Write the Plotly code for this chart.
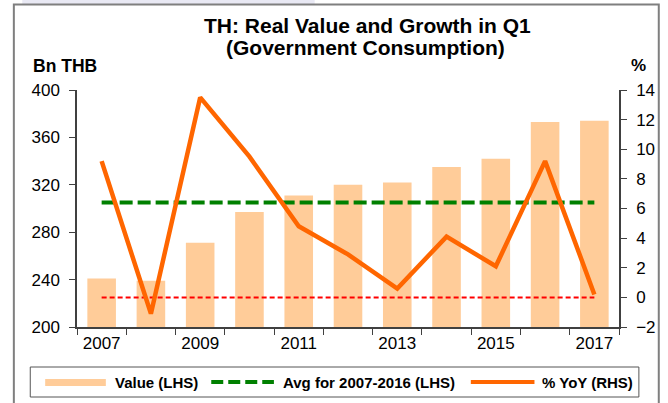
import plotly.graph_objects as go

# ---------------- data ----------------
years = [2007, 2008, 2009, 2010, 2011, 2012, 2013, 2014, 2015, 2016, 2017]
value_bn_thb = [241, 239, 271, 297, 311, 320, 322, 335, 342, 373, 374]
yoy_pct = [9.2, -1.1, 13.5, 9.5, 4.8, 2.9, 0.6, 4.1, 2.1, 9.2, 0.2]
avg_2007_2016 = 305
zero_ref = 0
x_tick_labels = ["2007", "2009", "2011", "2013", "2015", "2017"]
x_tick_years = [2007, 2009, 2011, 2013, 2015, 2017]

title_line1 = "TH: Real Value and Growth in Q1"
title_line2 = "(Government Consumption)"
legend_names = ["Value (LHS)", "Avg for 2007-2016 (LHS)", "% YoY (RHS)"]

# ---------------- layout geometry (pixels) ----------------
W, H = 668, 403
L, R, T, B = 77, 46, 90, 76
PW, PH = W - L - R, H - T - B


def px(x):
    return (x - L) / PW


def py(y):
    return (H - B - y) / PH


FONT = "Arial, 'Liberation Sans', Helvetica, sans-serif"
BAR_COLOR = "#FFCC99"
LINE_COLOR = "#FF6600"
AVG_COLOR = "#008000"
AXIS_COLOR = "#404040"

fig = go.Figure()

fig.add_trace(go.Bar(
    x=years, y=value_bn_thb, name=legend_names[0],
    marker=dict(color=BAR_COLOR, line=dict(width=0)),
    width=0.58, yaxis="y", showlegend=False,
))
fig.add_trace(go.Scatter(
    x=[years[0], years[-1]], y=[zero_ref, zero_ref], mode="lines",
    line=dict(color="#FF0000", width=2, dash="5px,3px"),
    yaxis="y2", showlegend=False, hoverinfo="skip",
))
fig.add_trace(go.Scatter(
    x=[years[0], years[-1]], y=[avg_2007_2016, avg_2007_2016], mode="lines",
    name=legend_names[1],
    line=dict(color=AVG_COLOR, width=4, dash="13px,5px"),
    yaxis="y", showlegend=False,
))
fig.add_trace(go.Scatter(
    x=years, y=yoy_pct, mode="lines", name=legend_names[2],
    line=dict(color=LINE_COLOR, width=4.5),
    yaxis="y2", showlegend=False,
))

fig.update_layout(
    width=W, height=H,
    margin=dict(l=L, r=R, t=T, b=B, pad=0),
    paper_bgcolor="white", plot_bgcolor="white",
    font=dict(family=FONT, color="black", size=17),
    showlegend=False,
    bargap=0.42,
    xaxis=dict(
        range=[years[0] - 0.5, years[-1] + 0.5],
        tickmode="array", tickvals=x_tick_years, ticktext=x_tick_labels,
        ticks="", showgrid=False, zeroline=False,
        showline=True, linecolor=AXIS_COLOR, linewidth=1.5,
        tickfont=dict(size=17, family=FONT, color="black"),
        minor=dict(
            tickmode="array",
            tickvals=[y - 0.5 for y in years] + [years[-1] + 0.5],
            ticks="outside", ticklen=6, tickcolor=AXIS_COLOR, tickwidth=1,
            showgrid=False,
        ),
    ),
    yaxis=dict(
        range=[200, 400], dtick=40, tick0=200,
        ticks="outside", ticklen=6, tickcolor=AXIS_COLOR, tickwidth=1,
        showgrid=False, zeroline=False,
        showline=True, linecolor=AXIS_COLOR, linewidth=1.5,
        tickfont=dict(size=17, family=FONT, color="black"),
        ticklabelstandoff=6,
    ),
    yaxis2=dict(
        range=[-2, 14], dtick=2, tick0=-2,
        overlaying="y", side="right",
        ticks="outside", ticklen=6, tickcolor=AXIS_COLOR, tickwidth=1,
        showgrid=False, zeroline=False,
        showline=True, linecolor=AXIS_COLOR, linewidth=1.5,
        tickfont=dict(size=17, family=FONT, color="black"),
        ticklabelstandoff=6,
    ),
)

annotations = [
    dict(text=f"<b>{title_line1}</b>", x=px(369), y=py(26), font=dict(size=21)),
    dict(text=f"<b>{title_line2}</b>", x=px(367), y=py(47.5), font=dict(size=21)),
    dict(text="<b>Bn THB</b>", x=px(31), y=py(66), xanchor="left", font=dict(size=17.5)),
    dict(text="<b>%</b>", x=px(651), y=py(66), xanchor="right", font=dict(size=17)),
    dict(text=f"<b>{legend_names[0]}</b>", x=px(113), y=py(382), xanchor="left", font=dict(size=15)),
    dict(text=f"<b>{legend_names[1]}</b>", x=px(282), y=py(382), xanchor="left", font=dict(size=15)),
    dict(text=f"<b>{legend_names[2]}</b>", x=px(543), y=py(382), xanchor="left", font=dict(size=15)),
]
for a in annotations:
    a.setdefault("xanchor", "center")
    a.update(xref="paper", yref="paper", yanchor="middle", showarrow=False)
    a["font"].update(family=FONT, color="black")
fig.update_layout(annotations=annotations)

shapes = [
    # faint band at top-left
    dict(type="rect", x0=px(22), x1=px(316), y0=py(0), y1=py(4),
         fillcolor="#E9E9F4", line=dict(width=0), layer="below"),
    # outer frame
    dict(type="rect", x0=px(13.5), x1=px(662), y0=py(4.5), y1=py(420),
         line=dict(color="#7F7F7F", width=2), fillcolor="rgba(0,0,0,0)"),
    # legend box
    dict(type="rect", x0=px(30), x1=px(642), y0=py(367), y1=py(397),
         line=dict(color="#555555", width=1), fillcolor="rgba(0,0,0,0)"),
    # legend swatches
    dict(type="rect", x0=px(45), x1=px(106), y0=py(379), y1=py(386),
         fillcolor=BAR_COLOR, line=dict(width=0)),
    dict(type="line", x0=px(212), x1=px(275), y0=py(382), y1=py(382),
         line=dict(color=AVG_COLOR, width=4, dash="12px,5px")),
    dict(type="line", x0=px(473), x1=px(537), y0=py(382), y1=py(382),
         line=dict(color=LINE_COLOR, width=4)),
]
for s in shapes:
    s.update(xref="paper", yref="paper")
fig.update_layout(shapes=shapes)

fig.write_html(
    "out.html",
    config={"displayModeBar": False},
    post_script="document.body.style.margin='0px';document.body.style.overflow='hidden';",
)
